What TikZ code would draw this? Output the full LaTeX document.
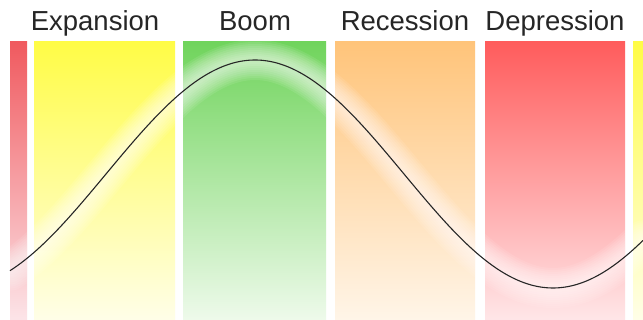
\documentclass[tikz,border=0pt]{standalone}
\usepackage{fontspec}
\setmainfont{Liberation Sans}
\begin{document}
\begin{tikzpicture}[x=1pt,y=-1pt,
  bar/.style={draw=none},
  label/.style={anchor=base,font=\fontsize{27.5}{30}\selectfont,text=black!85,inner sep=0pt},
  glow/.style={white,line cap=round,line join=round},
  wave/.style={black!85,line width=1.1pt}
]
\useasboundingbox (0,0) rectangle (643,320);
\fill[white] (0,0) rectangle (643,320);
\begin{scope}
\clip (0,0) rectangle (643,320);
% bars
\shade[bar,top color={rgb,255:red,240;green,90;blue,95},middle color={rgb,255:red,245;green,150;blue,155},bottom color={rgb,255:red,252;green,228;blue,232}] (10,42) rectangle (27,320);
\shade[bar,top color={rgb,255:red,255;green,252;blue,70},middle color={rgb,255:red,255;green,253;blue,160},bottom color={rgb,255:red,255;green,254;blue,232}] (34,42) rectangle (175,320);
\shade[bar,top color={rgb,255:red,112;green,212;blue,92},middle color={rgb,255:red,165;green,228;blue,145},bottom color={rgb,255:red,238;green,250;blue,235}] (183,42) rectangle (326,320);
\shade[bar,top color={rgb,255:red,255;green,196;blue,122},middle color={rgb,255:red,255;green,218;blue,170},bottom color={rgb,255:red,255;green,245;blue,232}] (335,42) rectangle (475,320);
\shade[bar,top color={rgb,255:red,255;green,92;blue,92},middle color={rgb,255:red,255;green,160;blue,160},bottom color={rgb,255:red,255;green,230;blue,232}] (485,42) rectangle (625,320);
\shade[bar,top color={rgb,255:red,255;green,252;blue,70},middle color={rgb,255:red,255;green,253;blue,160},bottom color={rgb,255:red,255;green,254;blue,232}] (633,42) rectangle (650,320);
% glow round the curve
\foreach \w in {40,36,32,28,24,20,16,12,8}{
  \draw[glow,line width=\w pt,opacity=0.09] plot[domain=10:643,samples=120,smooth] (\x,{174-114*cos((\x-255)/298*180)});
}
\draw[wave] plot[domain=10:643,samples=120,smooth] (\x,{174-114*cos((\x-255)/298*180)});
\end{scope}
% labels
\node[label] (exp) at (95,31) {Expansion};
\node[label] (boom) at (255,31) {Boom};
\node[label] (rec) at (405,31) {Recession};
\node[label] (dep) at (555,31) {Depression};
\end{tikzpicture}
\end{document}
